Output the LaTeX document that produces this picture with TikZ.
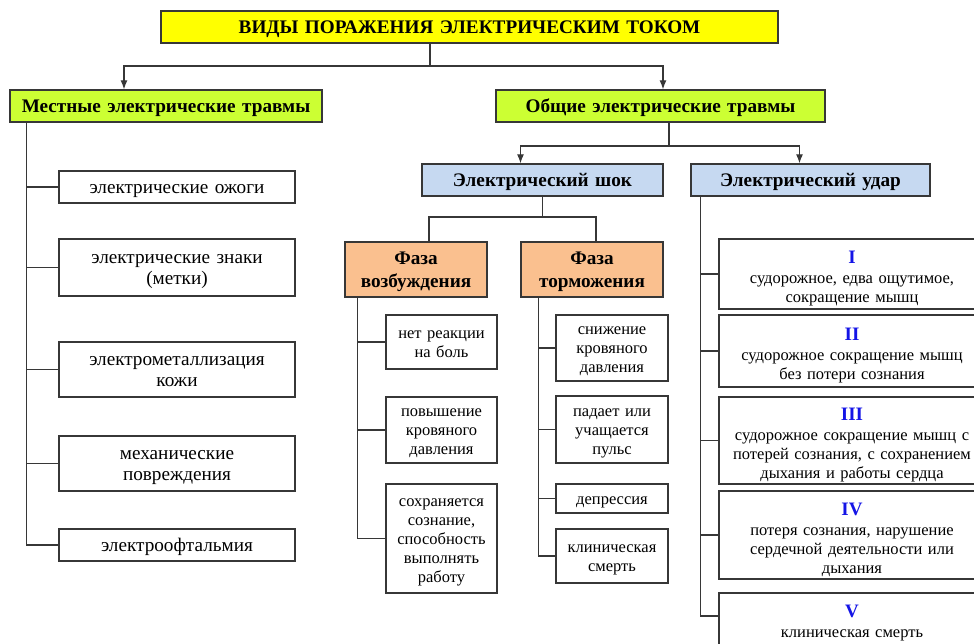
\documentclass[tikz,border=0pt]{standalone}
\usepackage{fontspec}
\setmainfont{Liberation Serif}
\usetikzlibrary{arrows.meta}
\definecolor{titleyellow}{RGB}{255,255,0}
\definecolor{limegreen}{RGB}{204,255,51}
\definecolor{paleblue}{RGB}{198,217,241}
\definecolor{peach}{RGB}{250,192,143}
\definecolor{numblue}{RGB}{20,20,230}
\definecolor{edge}{RGB}{55,55,55}
\begin{document}
\begin{tikzpicture}[x=1pt, y=-1pt, >={Latex[length=9pt,width=7pt]}, line width=1.3pt, draw=edge,
    box/.style={draw=edge, line width=1.3pt, align=center, inner xsep=0pt, inner ysep=1pt,
        font=\fontsize{16.5}{19}\selectfont,
        execute at begin node={\rule{0pt}{0.891em}},
        execute at end node={\rule[-0.216em]{0pt}{0.216em}}},
    bigbox/.style={box, font=\fontsize{19.2}{21}\selectfont},
    head/.style={box, font=\fontsize{19.2}{23}\selectfont\bfseries},
    degree/.style={box, execute at begin node={\rule{0pt}{1.35em}}}]
\useasboundingbox (0,0) rectangle (974,644);

% headings
\node[head, fill=titleyellow, text width=617pt, minimum height=32pt] (title) at (469.5,27) {ВИДЫ ПОРАЖЕНИЯ ЭЛЕКТРИЧЕСКИМ ТОКОМ};
\node[head, fill=limegreen, text width=312pt, minimum height=32pt] (local) at (166,106) {Местные электрические травмы};
\node[head, fill=limegreen, text width=329pt, minimum height=32pt] (general) at (660.5,106) {Общие электрические травмы};
\node[head, fill=paleblue, text width=241pt, minimum height=32pt] (shock) at (542.5,180) {Электрический шок};
\node[head, fill=paleblue, text width=239pt, minimum height=32pt] (udar) at (810.5,180) {Электрический удар};
\node[head, fill=peach, text width=142pt, minimum height=55pt] (excite) at (416,269.5) {Фаза\\возбуждения};
\node[head, fill=peach, text width=142pt, minimum height=55pt] (inhib) at (592,269.5) {Фаза\\торможения};

% local traumas
\node[bigbox, text width=236pt, minimum height=32pt] (burn) at (177,187) {электрические ожоги};
\node[bigbox, text width=236pt, minimum height=57pt] (marks) at (177,267.5) {электрические знаки\\(метки)};
\node[bigbox, text width=236pt, minimum height=55pt] (metal) at (177,369.5) {электрометаллизация\\кожи};
\node[bigbox, text width=236pt, minimum height=55pt] (mech) at (177,463.5) {механические\\повреждения};
\node[bigbox, text width=236pt, minimum height=32pt] (ophth) at (177,545) {электроофтальмия};

% shock phases
\node[box, text width=111pt, minimum height=54pt] (nopain) at (441.5,342) {нет реакции\\на боль};
\node[box, text width=111pt, minimum height=66pt] (bphigh) at (441.5,430) {повышение\\кровяного\\давления};
\node[box, text width=111pt, minimum height=109pt] (aware) at (441.5,538.5) {сохраняется\\сознание,\\способность\\выполнять\\работу};
\node[box, text width=112pt, minimum height=66pt] (bplow) at (612,348) {снижение\\кровяного\\давления};
\node[box, text width=112pt, minimum height=67pt] (pulse) at (612,429.5) {падает или\\учащается\\пульс};
\node[box, text width=112pt, minimum height=29pt] (depr) at (612,498.5) {депрессия};
\node[box, text width=112pt, minimum height=54pt] (death) at (612,556) {клиническая\\смерть};

% degrees of electric shock
\node[degree, text width=266pt, minimum height=70pt] (d1) at (852,274) {\textcolor{numblue}{\fontsize{19}{19}\selectfont\bfseries I}\\[1pt]судорожное, едва ощутимое,\\сокращение мышц};
\node[degree, text width=266pt, minimum height=72pt] (d2) at (852,351) {\textcolor{numblue}{\fontsize{19}{19}\selectfont\bfseries II}\\[1pt]судорожное сокращение мышц\\без потери сознания};
\node[degree, text width=266pt, minimum height=87pt] (d3) at (852,440.5) {\textcolor{numblue}{\fontsize{19}{19}\selectfont\bfseries III}\\[1pt]судорожное сокращение мышц с\\потерей сознания, с сохранением\\дыхания и работы сердца};
\node[degree, text width=266pt, minimum height=88pt] (d4) at (852,535) {\textcolor{numblue}{\fontsize{19}{19}\selectfont\bfseries IV}\\[1pt]потеря сознания, нарушение\\сердечной деятельности или\\дыхания};
\node[box, text width=266pt, minimum height=57pt] (d5) at (852,621.5) {\textcolor{numblue}{\fontsize{19}{19}\selectfont\bfseries V}\\[1pt]клиническая смерть};

% arrows
\coordinate (tj) at (430,66);
\draw (title.south -| tj) -- (tj);
\draw[->] (tj) -| ([xshift=-42pt]local.north);
\draw[->] (tj) -| ([xshift=2.5pt]general.north);
\coordinate (gj) at (669,146);
\draw (general.south -| gj) -- (gj);
\draw[->] (gj) -| ([xshift=-22pt]shock.north);
\draw[->] (gj) -| ([xshift=-11pt]udar.north);
\coordinate (sj) at (542.5,217);
\draw (shock.south) -- (sj);
\draw (sj) -| ([xshift=13pt]excite.north);
\draw (sj) -| ([xshift=4pt]inhib.north);

\foreach \n in {burn,marks,metal,mech,ophth}
    \draw ([xshift=17pt]local.south west) |- (\n.west);
\foreach \n in {nopain,bphigh,aware}
    \draw ([xshift=13pt]excite.south west) |- (\n.west);
\foreach \n in {bplow,pulse,depr,death}
    \draw ([xshift=18pt]inhib.south west) |- (\n.west);
\foreach \n in {d1,d2,d3,d4}
    \draw ([xshift=10pt]udar.south west) |- (\n.west);
\draw ([xshift=10pt]udar.south west) |- ([yshift=5.5pt]d5.west);
\end{tikzpicture}
\end{document}
